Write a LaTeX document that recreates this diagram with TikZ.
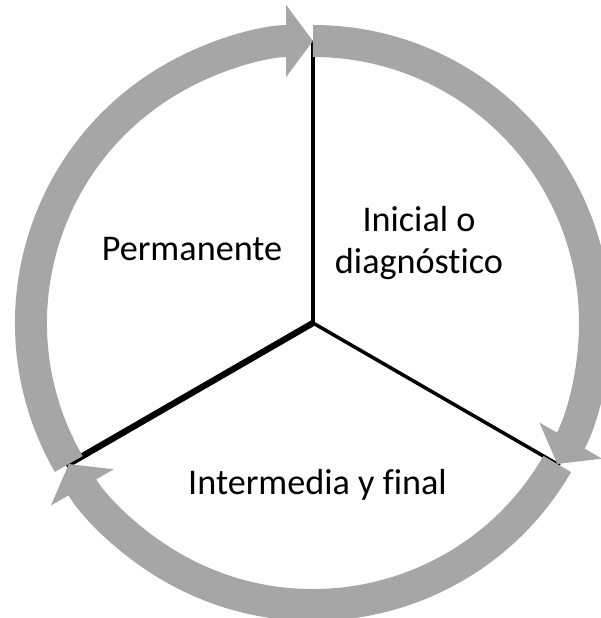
\documentclass[tikz,border=0pt]{standalone}
\usepackage{fontspec}
\setmainfont{Carlito}[Ligatures=NoCommon]
\usetikzlibrary{arrows.meta}
\definecolor{bandgray}{HTML}{A6A6A6}

\begin{document}
\begin{tikzpicture}[thick,>=stealth,
    band/.style={draw=bandgray, line width=0.64cm,
      -{Triangle[width=1.42cm, length=0.54cm]}},
    spoke/.style={line width=2pt, black},
    label/.style={font=\fontsize{20.6}{23.5}\selectfont, align=center}]
  \useasboundingbox (0,0) rectangle (12,12.36);
  \coordinate (O) at (6.26,5.90);
  \coordinate (T) at ([shift={(90:5.66)}]O);
  \coordinate (R) at ([shift={(-30:5.70)}]O);
  \coordinate (L) at ([shift={(210:5.70)}]O);
  % spokes
  \draw[spoke] (O) -- (T);
  \draw[spoke] (O) -- (R);
  \draw[spoke, line width=3.6pt] (O) -- (L);
  % arrows round the circle
  \draw[band] ([shift={(90:5.64)}]O) arc[start angle=90, end angle=-30, radius=5.64];
  \draw[band] ([shift={(-30:5.64)}]O) arc[start angle=-30, end angle=-150, radius=5.64];
  \draw[band] ([shift={(210:5.64)}]O) arc[start angle=210, end angle=90, radius=5.64];
  % labels
  \node[label] (perm) at (3.84,7.38) {Permanente};
  \node[label] (ini) at (8.38,7.50) {Inicial o\\diagnóstico};
  \node[label] (inter) at (6.35,2.66) {Intermedia y final};
\end{tikzpicture}
\end{document}
